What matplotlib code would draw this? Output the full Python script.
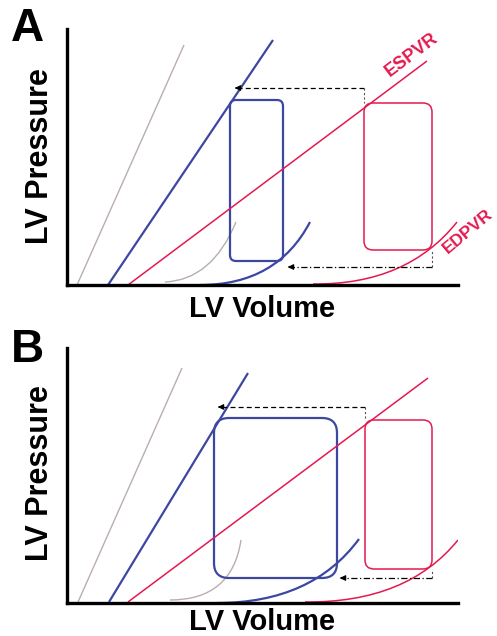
import matplotlib.pyplot as plt
from matplotlib.patches import FancyBboxPatch, PathPatch
from matplotlib.path import Path

plt.rcParams['font.family'] = ['Liberation Sans', 'DejaVu Sans']

W, H = 497, 636
blue = '#3c47a2'
red = '#e31a4f'
grey = '#b9adb2'

# panel A  (volume, pressure in arbitrary units)
# ESPVR lines: start, end ; EDPVR curves: start, control, end
a_grey_es = [(10, 0), (117, 240)]
a_blue_es = [(41, 0), (206, 245)]
a_red_es = [(61, 0), (360, 224)]
a_grey_ed = [(98, 3), (145, 5), (169, 63)]
a_blue_ed = [(133, 0), (210, 0), (243, 63)]
a_red_ed = [(246, 1), (340, 0), (390, 63)]
# loops: ESV, EDV, EDP, ESP
a_blue_loop = [163, 216, 24, 185]
a_red_loop = [297, 365, 35, 182]
# arrows: from volume, to volume, pressure level
a_arrow_es = [297, 165, 197]
a_arrow_ed = [365, 218, 18]

# panel B
b_grey_es = [(11, 1), (115, 235)]
b_blue_es = [(42, 1), (181, 230)]
b_red_es = [(61, 1), (361, 225)]
b_grey_ed = [(103, 3), (165, 3), (174, 63)]
b_blue_ed = [(150, 0), (245, 0), (292, 64)]
b_red_ed = [(238, 1), (340, 0), (391, 63)]
b_blue_loop = [147, 270, 25, 185]
b_red_loop = [298, 365, 34, 183]
b_arrow_es = [298, 148, 196]
b_arrow_ed = [365, 270, 25]


def curve(ax, pts, color, lw):
    if len(pts) == 2:
        ax.plot([pts[0][0], pts[1][0]], [pts[0][1], pts[1][1]], color=color, lw=lw, solid_capstyle='butt')
    else:
        p = Path(pts, [Path.MOVETO, Path.CURVE3, Path.CURVE3])
        ax.add_patch(PathPatch(p, fill=False, ec=color, lw=lw))


def loop(ax, vals, color, lw, r):
    esv, edv, edp, esp = vals
    ax.add_patch(FancyBboxPatch((esv, edp), edv - esv, esp - edp,
                                boxstyle="round,pad=0,rounding_size=%d" % r,
                                fill=False, ec=color, lw=lw))


def arrow(ax, vals, ls, top):
    x0, x1, y = vals
    ax.plot([x0, x1 + 4], [y, y], color='k', lw=0.9, ls=ls, dashes=(4, 2.5) if ls == '--' else (5, 2, 1, 2))
    ax.annotate('', xy=(x1, y), xytext=(x1 + 8, y),
                arrowprops=dict(arrowstyle='-|>', color='k', lw=0.9, mutation_scale=8))
    ax.plot([x0, x0], [y, top], color='#555555', lw=0.8, ls=(0, (2, 2)))


def panel(rect, ymax, g_es, b_es, r_es, g_ed, b_ed, r_ed, bl, rl, aes, aed, br):
    ax = fig.add_axes(rect)
    ax.set_xlim(0, 391)
    ax.set_ylim(0, ymax)
    for s in ['top', 'right']:
        ax.spines[s].set_visible(False)
    for s in ['left', 'bottom']:
        ax.spines[s].set_linewidth(2.4)
    ax.set_xticks([])
    ax.set_yticks([])
    curve(ax, g_es, grey, 1.0)
    curve(ax, b_es, blue, 1.6)
    curve(ax, r_es, red, 1.1)
    curve(ax, g_ed, grey, 1.0)
    curve(ax, b_ed, blue, 1.6)
    curve(ax, r_ed, red, 1.1)
    loop(ax, bl, blue, 1.6, br)
    loop(ax, rl, red, 1.1, 9)
    arrow(ax, aes, '--', rl[3])
    arrow(ax, aed, '-.', rl[2])
    return ax


fig = plt.figure(figsize=(W / 100, H / 100), dpi=100)

ax1 = panel([67 / W, 1 - 285 / H, 391 / W, 256 / H], 256,
            a_grey_es, a_blue_es, a_red_es, a_grey_ed, a_blue_ed, a_red_ed,
            a_blue_loop, a_red_loop, a_arrow_es, a_arrow_ed, 6)
ax2 = panel([67 / W, 1 - 603 / H, 391 / W, 255 / H], 255,
            b_grey_es, b_blue_es, b_red_es, b_grey_ed, b_blue_ed, b_red_ed,
            b_blue_loop, b_red_loop, b_arrow_es, b_arrow_ed, 15)

ax1.text(345, 230, 'ESPVR', color=red, fontsize=13, fontweight='bold', rotation=37, ha='center', va='center')
ax1.text(401, 54, 'EDPVR', color=red, fontsize=12.5, fontweight='bold', rotation=40, ha='center', va='center', clip_on=False)

for y, lab in [(29, 'A'), (350, 'B')]:
    fig.text(27 / W, 1 - y / H, lab, fontsize=33, fontweight='bold', ha='center', va='center')
for y in [156, 473]:
    fig.text(40 / W, 1 - y / H, 'LV Pressure', fontsize=22, fontweight='bold', rotation=90, ha='center', va='center')
for y in [317, 630]:
    fig.text(262 / W, 1 - y / H, 'LV Volume', fontsize=21, fontweight='bold', ha='center', va='baseline')

fig.savefig('out.png', dpi=100)
